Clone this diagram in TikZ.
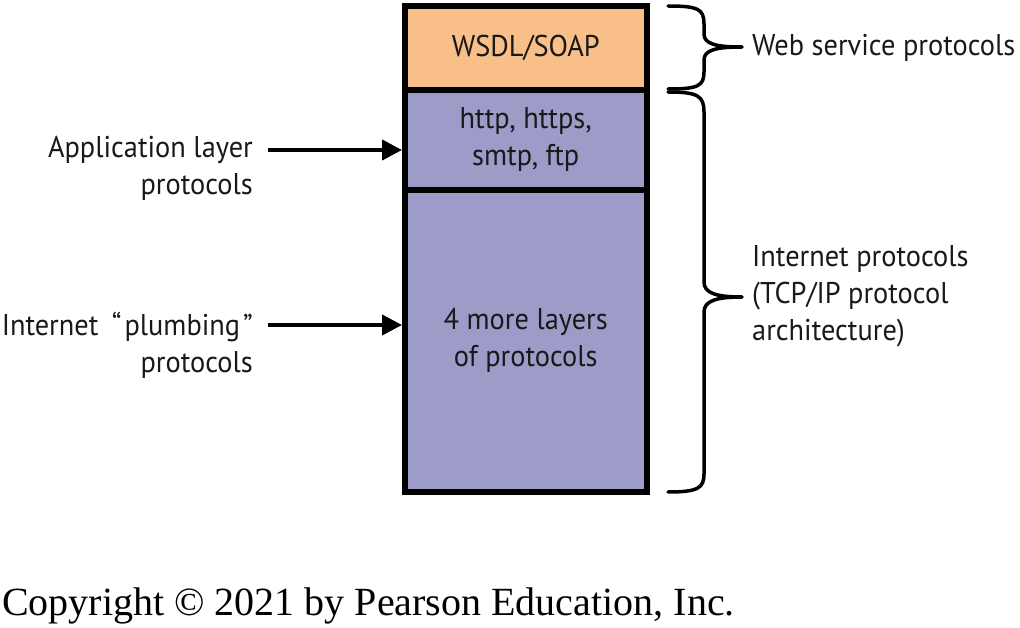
\documentclass[tikz,border=0pt]{standalone}
\usepackage{fontspec}
\setmainfont[FakeStretch=0.945]{PT Sans}
\newfontfamily\serifcopy{Liberation Serif}
\usetikzlibrary{arrows.meta}
\definecolor{wsorange}{RGB}{249,191,136}
\definecolor{lpurple}{RGB}{157,156,201}
\begin{document}
\begin{tikzpicture}[x=1pt,y=-1pt,
  layerbox/.style={draw=black,line width=6pt,minimum width=241.5pt,inner sep=0pt,
     font=\fontsize{30}{37}\selectfont,align=center,text=black!90},
  lbl/.style={inner sep=0pt,font=\fontsize{30}{37}\selectfont,text=black!90},
  arr/.style={line width=4pt,-{Triangle[length=20pt,width=20pt]}},
  brace/.style={line width=3.5pt,line cap=round,line join=round}]
\useasboundingbox (0,0) rectangle (1020,628);
\node[layerbox,fill=wsorange,minimum height=84pt] (ws) at (525.75,48) {WSDL/SOAP};
\node[layerbox,fill=lpurple,minimum height=100pt] (app) at (525.75,140) {http, https,\\smtp, ftp};
\node[layerbox,fill=lpurple,minimum height=301.5pt] (more) at (525.75,340.75) {4 more layers\\of protocols};
\node[lbl,align=right,anchor=east] (applbl) at (253,168) {Application layer\\protocols};
\node[lbl,align=right,anchor=east] (pluml) at (253,345) {Internet\ \kern6pt“\kern3pt{}plumbing\kern3pt{}”\\protocols};
\node[lbl,anchor=west] (wslbl) at (752,48) {Web service protocols};
\node[lbl,align=left,anchor=west] (inetlbl) at (752,296) {Internet protocols\\(TCP/IP protocol\\architecture)};
\coordinate (a1) at (268,150);
\coordinate (a2) at (268,325);
\draw[arr] (a1) -- (a1 -| app.west);
\draw[arr] (a2) -- (a2 -| more.west);
% braces
\draw[brace] (668,6) .. controls (698,6) and (704,9) .. (704,24) -- (704,34)
  .. controls (704,44) and (716,47) .. (742,47)
  .. controls (716,47) and (704,50) .. (704,60) -- (704,72)
  .. controls (704,86) and (698,89) .. (668,89);
\draw[brace] (668,92) .. controls (698,92) and (704,96) .. (704,112) -- (704,282)
  .. controls (704,293) and (716,297) .. (742,297)
  .. controls (716,297) and (704,301) .. (704,312) -- (704,474)
  .. controls (704,488) and (698,492) .. (668,492);
\node[inner sep=0pt,anchor=base west,font=\serifcopy\fontsize{40}{40}\selectfont] (copy) at (2,615) {Copyright © 2021 by Pearson Education, Inc.};
\end{tikzpicture}
\end{document}
